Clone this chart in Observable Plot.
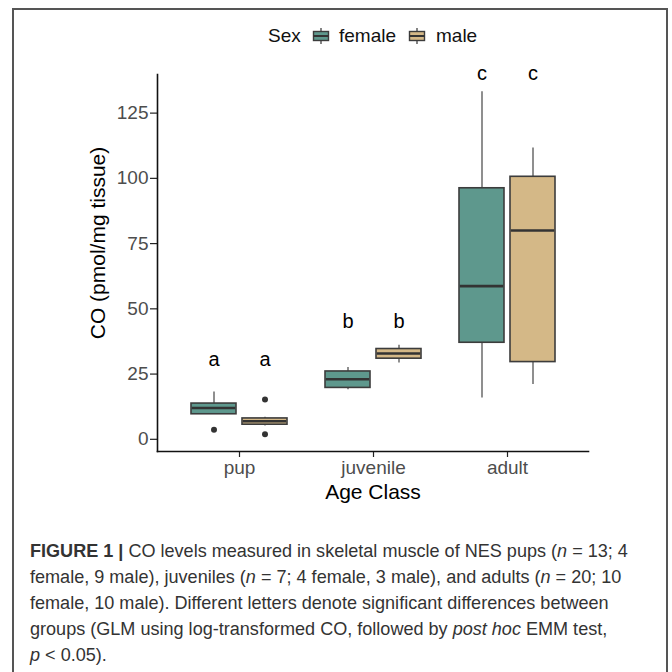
<!DOCTYPE html>
<html>
<head>
<meta charset="utf-8">
<script src="https://cdn.jsdelivr.net/npm/d3@7"></script>
<script src="https://cdn.jsdelivr.net/npm/@observablehq/plot@0.6"></script>
<style>
  html, body { margin: 0; padding: 0; background: #fff; }
  #page { position: relative; width: 672px; height: 672px; overflow: hidden; font-family: "Liberation Sans", Arial, sans-serif; }
  #border { position: absolute; left: 12px; top: 8px; width: 656px; height: 700px; border: 2px solid #555; box-sizing: border-box; }
  #chart { position: absolute; left: 0; top: 0; }
  .leg { position: absolute; font-size: 19px; line-height: 19px; color: #111; white-space: nowrap; }
  .key { position: absolute; }
  #caption { position: absolute; left: 30px; top: 538px; font-family: "Liberation Sans", Arial, sans-serif; font-size: 17px; line-height: 26px; color: #333; }
  #caption div { white-space: nowrap; }
</style>
</head>
<body>
<div id="page">
  <div id="border"></div>
  <div id="chart"></div>
  <div class="leg" style="left:268px;top:26px;">Sex</div>
  <svg class="key" style="left:312px;top:28px;" width="18" height="16" id="keyF"></svg>
  <div class="leg" style="left:339px;top:26px;">female</div>
  <svg class="key" style="left:408px;top:28px;" width="18" height="16" id="keyM"></svg>
  <div class="leg" style="left:436px;top:26px;">male</div>
  <div id="caption">
    <div id="cap1"><b style="font-weight:700">FIGURE 1 |</b> CO levels measured in skeletal muscle of NES pups (<i>n</i> = 13; 4</div>
    <div>female, 9 male), juveniles (<i>n</i> = 7; 4 female, 3 male), and adults (<i>n</i> = 20; 10</div>
    <div>female, 10 male). Different letters denote significant differences between</div>
    <div>groups (GLM using log-transformed CO, followed by <i>post hoc</i> EMM test,</div>
    <div><i>p</i> &lt; 0.05).</div>
  </div>
</div>
<script>
// ---- data ----
const ages = ["pup", "juvenile", "adult"];
const sexes = ["female", "male"];
const sexColors = ["#5E988D", "#D4B887"];

const femaleLow    = [9.6, 19.0, 15.8];
const femaleQ1     = [9.6, 19.7, 37.0];
const femaleMedian = [12.0, 23.0, 58.7];
const femaleQ3     = [13.7, 26.0, 96.2];
const femaleHigh   = [18.1, 27.5, 133.2];

const maleLow    = [5.1, 29.2, 21.0];
const maleQ1     = [5.6, 30.9, 29.6];
const maleMedian = [6.9, 32.9, 80.0];
const maleQ3     = [8.0, 34.6, 100.6];
const maleHigh   = [8.5, 36.0, 111.6];

const femaleOutlierAge = ["pup"];
const femaleOutlierVal = [3.7];
const maleOutlierAge = ["pup", "pup"];
const maleOutlierVal = [15.3, 1.9];

const letters = ["a", "b", "c"];
const letterY = [30.5, 45, 140.3];

const yTicks = [0, 25, 50, 75, 100, 125];
const yTitle = "CO (pmol/mg tissue)";
const xTitle = "Age Class";

// ---- tables ----
function rowsFor(low, q1, med, q3, high) {
  return ages.map((a, i) => ({age: a, low: low[i], q1: q1[i], median: med[i], q3: q3[i], high: high[i], letter: letters[i], ly: letterY[i]}));
}
const groups = [
  {rows: rowsFor(femaleLow, femaleQ1, femaleMedian, femaleQ3, femaleHigh),
   outliers: femaleOutlierAge.map((a, i) => ({age: a, v: femaleOutlierVal[i]})), color: sexColors[0], dx: -25.5},
  {rows: rowsFor(maleLow, maleQ1, maleMedian, maleQ3, maleHigh),
   outliers: maleOutlierAge.map((a, i) => ({age: a, v: maleOutlierVal[i]})), color: sexColors[1], dx: 25.5}
];

const inset = 44.5;
const marks = [];
for (const g of groups) {
  marks.push(
    Plot.ruleX(g.rows, {x: "age", y1: "low", y2: "high", dx: g.dx, stroke: "#333", strokeWidth: 1.1}),
    Plot.barY(g.rows, {x: "age", y1: "q1", y2: "q3", dx: g.dx, fill: g.color, stroke: "#3c3c3c", strokeWidth: 1.6, insetLeft: inset, insetRight: inset}),
    Plot.tickY(g.rows, {x: "age", y: "median", dx: g.dx, stroke: "#333", strokeWidth: 2.6, insetLeft: inset + 0.8, insetRight: inset + 0.8}),
    Plot.dot(g.outliers, {x: "age", y: "v", dx: g.dx, r: 3, fill: "#333", stroke: "none"}),
    Plot.text(g.rows, {x: "age", y: "ly", text: "letter", dx: g.dx, fontSize: 20, fill: "#000"})
  );
}

const yMin = -4.67, yMax = 139.8;
const plot = Plot.plot({
  width: 672,
  height: 520,
  marginTop: 74,
  marginBottom: 69,
  marginLeft: 157,
  marginRight: 84,
  style: {fontFamily: "'Liberation Sans', Arial, sans-serif", background: "transparent", overflow: "visible"},
  x: {type: "band", domain: ages, paddingInner: 0, paddingOuter: 0.0963, label: null},
  y: {domain: [yMin, yMax], label: null},
  marks: [
    Plot.axisY({ticks: yTicks, tickSize: 7, tickPadding: 2, fontSize: 19, stroke: "#222", fill: "#4d4d4d", label: null, strokeWidth: 1.2}),
    Plot.axisX({tickSize: 6, tickPadding: 3, fontSize: 19, stroke: "#222", fill: "#4d4d4d", label: null, strokeWidth: 1.2}),
    Plot.frame({anchor: "left", stroke: "#111", strokeWidth: 1.6}),
    Plot.frame({anchor: "bottom", stroke: "#111", strokeWidth: 1.6}),
    ...marks,
    Plot.text([yTitle], {frameAnchor: "left", rotate: -90, dx: -59, dy: -20, fontSize: 21, fill: "#000", textAnchor: "middle", lineAnchor: "middle"}),
    Plot.text([xTitle], {frameAnchor: "bottom", dy: 41, fontSize: 21, fill: "#000", textAnchor: "middle", lineAnchor: "middle"})
  ]
});
document.getElementById("chart").appendChild(plot);

// legend key glyphs (small boxplot icons)
function drawKey(id, color) {
  const s = d3.select("#" + id);
  s.append("line").attr("x1", 9).attr("x2", 9).attr("y1", 0).attr("y2", 16).attr("stroke", "#333").attr("stroke-width", 1.2);
  s.append("rect").attr("x", 1.5).attr("y", 3.5).attr("width", 15).attr("height", 9).attr("fill", color).attr("stroke", "#3c3c3c").attr("stroke-width", 1.4);
  s.append("line").attr("x1", 1.5).attr("x2", 16.5).attr("y1", 8).attr("y2", 8).attr("stroke", "#333").attr("stroke-width", 2);
}
drawKey("keyF", sexColors[0]);
drawKey("keyM", sexColors[1]);

// fit caption font so that the first line spans the same width as in the figure
(function fitCaption() {
  const cap = document.getElementById("caption");
  const line1 = document.getElementById("cap1");
  const target = 598;
  const w = line1.getBoundingClientRect().width;
  if (w > 0) {
    const fs = 17 * target / w;
    cap.style.fontSize = fs.toFixed(2) + "px";
  }
})();
</script>
</body>
</html>
